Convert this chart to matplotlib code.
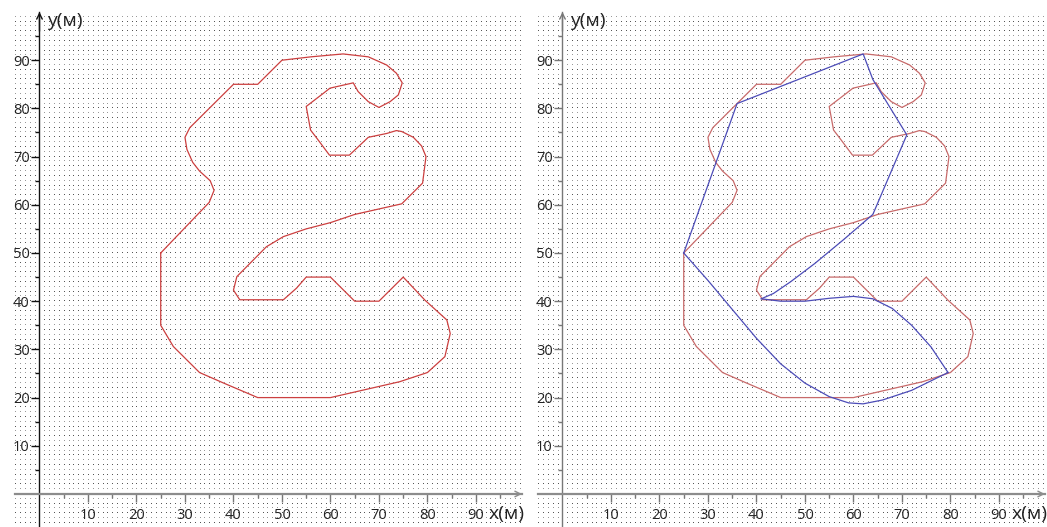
import numpy as np
import matplotlib
matplotlib.use('Agg')
import matplotlib.pyplot as plt

# red boundary of the area (metres), closed loop
outline_x = [25, 35, 36, 35.2, 33, 31.6, 30.4, 30, 31, 40, 45, 50, 56, 62.6, 67.8, 71.6, 73.6,
             74.8, 74, 72.3, 70, 67.8, 65.7, 64.7, 59.9, 58.5, 55, 55.9, 57.2, 59.8, 63.9, 67.8,
             71.6, 73.6, 74.7, 77.1, 78.8, 79.7, 79, 74.7, 65, 60, 55, 50.3, 46.8, 40.7, 40,
             41.3, 50.3, 53, 55, 60, 65, 70, 75, 79.5, 84, 84.7, 83.6, 80, 74.3, 60, 45, 38,
             33, 27.6, 25, 25]
outline_y = [50, 60.5, 63, 65, 67, 68.8, 71.5, 74, 76, 85, 85, 90, 90.7, 91.3, 90.7, 89, 87.3,
             85.3, 82.8, 81.4, 80.2, 81.4, 83.5, 85.3, 84.2, 83.1, 80.4, 75.5, 73.8, 70.3, 70.3, 74,
             74.8, 75.4, 75.2, 74, 72.2, 70, 64.5, 60.2, 58, 56.3, 55, 53.4, 51.3, 45.1, 42.3,
             40.3, 40.3, 42.7, 45, 45, 40, 40, 45, 40.2, 36.1, 33.3, 28.5, 25.2, 23.3, 20, 20, 23,
             25.2, 30.6, 35, 50]

# blue routes (right panel)
route1_x = [25, 36, 62, 64, 71, 64, 58, 52, 47, 43.5, 41]
route1_y = [50, 81, 91.3, 86, 74.5, 58, 52.8, 47.8, 44, 41.6, 40.5]
route2_x = [41, 45, 50, 55, 60, 64, 68, 72, 76, 79.5]
route2_y = [40.5, 40, 40, 40.6, 41, 40.5, 38.5, 35, 30.5, 25.2]
route3_x = [25, 30, 35, 40, 45, 50, 55, 59, 62, 66, 72, 79.5]
route3_y = [50, 44.3, 38.3, 32.3, 27, 23, 20.2, 18.9, 18.7, 19.5, 21.5, 25.2]

ticks = [10, 20, 30, 40, 50, 60, 70, 80, 90]

plt.rcParams['font.family'] = ['Open Sans', 'DejaVu Sans']

fig = plt.figure(figsize=(10.47, 5.27), dpi=100)


def make_panel(left_px, yaxis_color):
    ax = fig.add_axes([left_px / 1047, 0, 507 / 1047, 515 / 527])
    ax.set_xlim(-5.05, 99.5)
    ax.set_ylim(-6.85, 100)
    # dotted grid, one dot per metre (alternate rows lighter, like the original)
    gx, gy = np.meshgrid(np.arange(-5, 100), np.arange(-6, 100))
    dark = (gy % 2 == 0)
    ax.plot(gx[dark], gy[dark], ',', color='#555555', zorder=0)
    ax.plot(gx[~dark], gy[~dark], ',', color='#9a9a9a', zorder=0)
    for s in ['top', 'right']:
        ax.spines[s].set_visible(False)
    ax.spines['left'].set_position(('data', 0))
    ax.spines['bottom'].set_position(('data', 0))
    ax.spines['left'].set_color(yaxis_color)
    ax.spines['left'].set_linewidth(1.0)
    ax.spines['bottom'].set_color('#8c8c8c')
    ax.spines['bottom'].set_linewidth(1.6)
    ax.set_xticks(ticks)
    ax.set_yticks(ticks)
    ax.set_xticks([5, 15, 25, 35, 45, 55, 65, 75, 85, 95], minor=True)
    ax.set_yticks([5, 15, 25, 35, 45, 55, 65, 75, 85, 95], minor=True)
    ax.tick_params(axis='x', which='major', length=6, width=1, colors='#777777',
                   labelcolor='#222222', labelsize=10.5, pad=4)
    ax.tick_params(axis='x', which='minor', length=3, width=1, colors='#777777')
    ax.tick_params(axis='y', which='major', length=6, width=1, colors=yaxis_color,
                   labelcolor='#222222', labelsize=10.5, pad=1)
    ax.tick_params(axis='y', which='minor', length=3, width=1, colors=yaxis_color)
    ax.annotate('', xy=(0, 100), xytext=(0, 96),
                arrowprops=dict(arrowstyle='->', color=yaxis_color, lw=1.0,
                                shrinkA=0, shrinkB=0), annotation_clip=False)
    ax.annotate('', xy=(99.5, 0), xytext=(95, 0),
                arrowprops=dict(arrowstyle='->', color='#8c8c8c', lw=1.0,
                                shrinkA=0, shrinkB=0), annotation_clip=False)
    ax.text(1.6, 100, 'y(м)', fontsize=14, ha='left', va='top', color='#222222')
    ax.text(92.6, -2.3, 'x(м)', fontsize=14, ha='left', va='top', color='#222222')
    return ax


ax1 = make_panel(15, '#111111')
ax1.plot(outline_x, outline_y, color='#cc3f3f', lw=0.9)

ax2 = make_panel(538, '#777777')
ax2.plot(outline_x, outline_y, color='#c86a6a', lw=0.9)
ax2.plot(route1_x, route1_y, color='#4c4cb8', lw=0.9)
ax2.plot(route2_x, route2_y, color='#4c4cb8', lw=0.9)
ax2.plot(route3_x, route3_y, color='#4c4cb8', lw=0.9)

fig.savefig('out.png', dpi=100)
